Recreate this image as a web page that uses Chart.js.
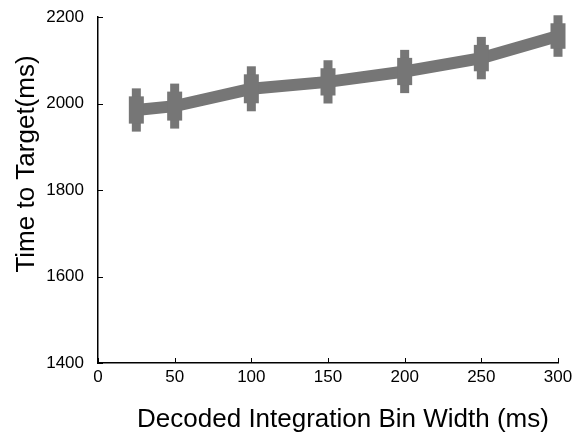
<!DOCTYPE html>
<html>
<head>
<meta charset="utf-8">
<script src="https://cdn.jsdelivr.net/npm/chart.js@4/dist/chart.umd.min.js"></script>
<style>
  body { margin: 0; background: #fff; }
  #wrap { width: 579px; height: 440px; }
</style>
</head>
<body>
<div id="wrap"><canvas id="c" width="579" height="440"></canvas></div>
<script>
// bin widths (ms) and mean time to target (ms)
const binWidths = [25, 50, 100, 150, 200, 250, 300];
const timeToTarget = [1985, 1994, 2034, 2050, 2074, 2105, 2156];
const errors = [50, 52, 52, 50, 50, 49, 48];
const xTicks = [0, 50, 100, 150, 200, 250, 300];
const yTicks = [1400, 1600, 1800, 2000, 2200];
const xTitle = 'Decoded Integration Bin Width (ms)';
const yTitle = 'Time to Target(ms)';

const grey = 'rgb(118,118,118)';
const family = 'Liberation Sans, Arial, sans-serif';

// thick error bars + inward ticks + axis titles
const extras = {
  id: 'extras',
  afterDatasetsDraw(chart) {
    const { ctx, scales: { x, y } } = chart;
    ctx.save();
    ctx.fillStyle = grey;
    binWidths.forEach((bw, i) => {
      const px = x.getPixelForValue(bw);
      const top = y.getPixelForValue(timeToTarget[i] + errors[i]);
      const bot = y.getPixelForValue(timeToTarget[i] - errors[i]);
      ctx.fillRect(px - 4.5, top, 9, bot - top);
      ctx.fillRect(px - 7.5, top + 8, 15, bot - top - 16);
    });
    ctx.restore();
  },
  afterDraw(chart) {
    const { ctx, chartArea: a, scales: { x, y } } = chart;
    ctx.save();
    ctx.strokeStyle = '#000';
    ctx.lineWidth = 1;
    ctx.beginPath();
    xTicks.forEach(v => {
      const px = Math.round(x.getPixelForValue(v)) + 0.5;
      ctx.moveTo(px, a.bottom);
      ctx.lineTo(px, a.bottom - 5);
    });
    yTicks.forEach(v => {
      const py = Math.round(y.getPixelForValue(v)) + 0.5;
      ctx.moveTo(a.left, py);
      ctx.lineTo(a.left + 5, py);
    });
    ctx.stroke();

    ctx.fillStyle = '#000';
    ctx.font = '26px ' + family;
    ctx.textAlign = 'center';
    ctx.textBaseline = 'middle';
    ctx.fillText(xTitle, (a.left + a.right) / 2 + 15, 420);
    ctx.translate(27, (a.top + a.bottom) / 2 - 26);
    ctx.rotate(-Math.PI / 2);
    ctx.fillText(yTitle, 0, 0);
    ctx.restore();
  }
};

new Chart(document.getElementById('c'), {
  type: 'line',
  data: {
    datasets: [{
      data: binWidths.map((b, i) => ({ x: b, y: timeToTarget[i] })),
      borderColor: grey,
      backgroundColor: grey,
      borderWidth: 12,
      pointRadius: 0,
      tension: 0
    }]
  },
  options: {
    responsive: false,
    animation: false,
    layout: { padding: { top: 17, right: 21, bottom: 0, left: 0 } },
    plugins: { legend: { display: false }, tooltip: { enabled: false } },
    scales: {
      x: {
        type: 'linear',
        min: 0, max: 300,
        afterBuildTicks: s => { s.ticks = xTicks.map(v => ({ value: v })); },
        afterFit: s => { s.height = 77; s.paddingLeft = 0; s.paddingRight = 0; },
        grid: { drawOnChartArea: false, drawTicks: false },
        border: { color: '#000', width: 1.5 },
        ticks: { color: '#000', font: { family: family, size: 17 }, padding: 4, maxRotation: 0, callback: v => String(v) }
      },
      y: {
        min: 1400, max: 2200,
        afterBuildTicks: s => { s.ticks = yTicks.map(v => ({ value: v })); },
        afterFit: s => { s.width = 98; s.paddingTop = 0; s.paddingBottom = 0; },
        grid: { drawOnChartArea: false, drawTicks: false },
        border: { color: '#000', width: 1.5 },
        ticks: { color: '#000', font: { family: family, size: 17 }, padding: 14, callback: v => String(v) }
      }
    }
  },
  plugins: [extras]
});
</script>
</body>
</html>
